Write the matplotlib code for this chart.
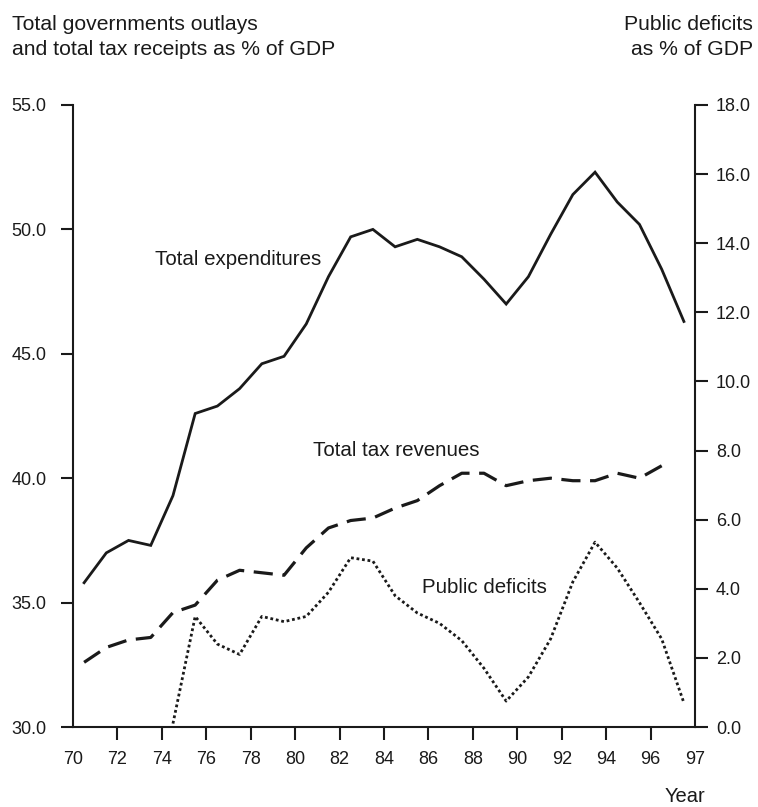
import numpy as np
import matplotlib
matplotlib.use("Agg")
import matplotlib.pyplot as plt

plt.rcParams['font.family'] = ['Liberation Sans', 'DejaVu Sans']

# years 1970..1997, drawn at the centre of each year slot
years = list(range(70, 98))

# total expenditures, % of GDP (left axis)
expenditures = [35.8, 37.0, 37.5, 37.3, 39.3, 42.6, 42.9, 43.6, 44.6, 44.9,
                46.2, 48.1, 49.7, 50.0, 49.3, 49.6, 49.3, 48.9, 48.0, 47.0,
                48.1, 49.8, 51.4, 52.3, 51.1, 50.2, 48.4, 46.3]

# total tax revenues, % of GDP (left axis), no value for 97
tax_revenues = [32.6, 33.2, 33.5, 33.6, 34.6, 34.9, 35.9, 36.3, 36.2, 36.1,
                37.2, 38.0, 38.3, 38.4, 38.8, 39.1, 39.7, 40.2, 40.2, 39.7,
                39.9, 40.0, 39.9, 39.9, 40.2, 40.0, 40.5, np.nan]

# public deficits, % of GDP (right axis), starts in 74
deficits = [np.nan, np.nan, np.nan, np.nan, 0.1, 3.2, 2.4, 2.1, 3.2, 3.05,
            3.2, 3.9, 4.9, 4.8, 3.8, 3.3, 3.0, 2.5, 1.7, 0.75,
            1.45, 2.55, 4.2, 5.35, 4.6, 3.6, 2.55, 0.7]

tick_years = ['70', '72', '74', '76', '78', '80', '82', '84', '86', '88',
              '90', '92', '94', '96', '97']

x = np.array(years) + 0.5
ink = '#1a1a1a'

fig = plt.figure(figsize=(7.58, 8.07), dpi=100)
ax = fig.add_axes([0.0963, 0.0991, 0.8206, 0.7708])
ax2 = ax.twinx()

ax.plot(x, expenditures, color=ink, lw=2.0, solid_joinstyle='miter')
ax.plot(x, tax_revenues, color=ink, lw=2.3, dashes=(6, 3))
ax2.plot(x, deficits, color=ink, lw=2.0, dashes=(1, 1))

ax.set_xlim(70, 98)
ax.set_ylim(30, 55)
ax2.set_ylim(0, 18)

ax.set_yticks(np.arange(30, 56, 5))
ax.set_yticklabels([f'{v:.1f}' for v in np.arange(30, 56, 5)])
ax2.set_yticks(np.arange(0, 19, 2))
ax2.set_yticklabels([f'{v:.1f}' for v in np.arange(0, 19, 2)])

xt = list(range(70, 97, 2)) + [98]
ax.set_xticks(xt)
ax.set_xticklabels(tick_years)
for t in (ax.xaxis.get_major_ticks()[0], ax.xaxis.get_major_ticks()[-1]):
    t.tick1line.set_visible(False)

for a in (ax, ax2):
    a.spines['top'].set_visible(False)
    for s in a.spines.values():
        s.set_linewidth(1.5)
        s.set_color(ink)
    a.tick_params(width=1.5, length=9, color=ink, labelsize=13, labelcolor=ink)
ax.spines['right'].set_visible(False)
ax2.spines['left'].set_visible(False)
ax2.spines['bottom'].set_visible(False)
ax.tick_params(axis='x', pad=8)
ax.tick_params(axis='y', pad=10)
ax2.tick_params(axis='y', pad=6)

ax.text(73.7, 48.8, 'Total expenditures', fontsize=14.8, color=ink, va='center')
ax.text(80.8, 41.1, 'Total tax revenues', fontsize=14.8, color=ink, va='center')
ax.text(85.7, 35.6, 'Public deficits', fontsize=14.8, color=ink, va='center')

fig.text(12 / 758, 1 - 30 / 807, 'Total governments outlays',
         fontsize=15.2, color=ink, va='baseline', ha='left')
fig.text(12 / 758, 1 - 55 / 807, 'and total tax receipts as % of GDP',
         fontsize=15.2, color=ink, va='baseline', ha='left')
fig.text(753 / 758, 1 - 30 / 807, 'Public deficits',
         fontsize=15.2, color=ink, va='baseline', ha='right')
fig.text(753 / 758, 1 - 55 / 807, 'as % of GDP',
         fontsize=15.2, color=ink, va='baseline', ha='right')
fig.text(705 / 758, 1 - 797 / 807, 'Year',
         fontsize=14.5, color=ink, va='center', ha='right')

fig.savefig('out.png', dpi=100)
